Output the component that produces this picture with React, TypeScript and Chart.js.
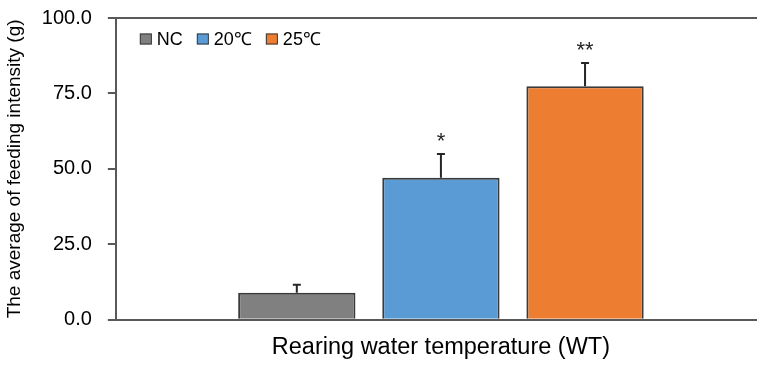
import React, { useEffect, useRef } from "react";
import { Chart, registerables } from "chart.js";

Chart.register(...registerables);

const categories = ["Rearing water temperature (WT)"];
const seriesNames = ["NC", "20℃", "25℃"];
const means = [9.0, 47.1, 77.4];
const errors = [2.6, 7.8, 7.7];
const significance = ["", "*", "**"];
const yTicks = [0, 25, 50, 75, 100];

const colors = ["#808080", "#5b9bd5", "#ed7d31"];
const axisColor = "#595959";
const FONT = "'Liberation Sans', Arial, sans-serif";

const errorBarPlugin = {
  id: "errorBars",
  afterDatasetsDraw(chart: any) {
    const ctx = chart.ctx;
    const y = chart.scales.y;
    ctx.save();
    chart.data.datasets.forEach((ds: any, i: number) => {
      const meta = chart.getDatasetMeta(i);
      const el = meta.data[0];
      if (!el) return;
      const x = el.x;
      const yTop = y.getPixelForValue(means[i]);
      const yErr = y.getPixelForValue(means[i] + errors[i]);
      ctx.strokeStyle = "#262626";
      ctx.lineWidth = 2;
      ctx.beginPath();
      ctx.moveTo(x, yTop);
      ctx.lineTo(x, yErr);
      ctx.moveTo(x - 4, yErr);
      ctx.lineTo(x + 4, yErr);
      ctx.stroke();
      if (significance[i]) {
        ctx.fillStyle = "#262626";
        ctx.font = `22px ${FONT}`;
        ctx.textAlign = "center";
        ctx.textBaseline = "bottom";
        ctx.fillText(significance[i], x, yErr - 1);
      }
    });
    ctx.restore();
  },
};

const topBorderPlugin = {
  id: "topBorder",
  afterDraw(chart: any) {
    const { ctx, chartArea } = chart;
    ctx.save();
    ctx.strokeStyle = axisColor;
    ctx.lineWidth = 2;
    ctx.beginPath();
    ctx.moveTo(chartArea.left, chartArea.top);
    ctx.lineTo(chartArea.right + 10, chartArea.top);
    ctx.stroke();
    ctx.restore();
  },
};

// Legend drawn inside the plot area, in one row, from the chart's datasets
const insideLegendPlugin = {
  id: "insideLegend",
  afterDraw(chart: any) {
    const { ctx, chartArea } = chart;
    ctx.save();
    ctx.font = `18px ${FONT}`;
    ctx.textAlign = "left";
    ctx.textBaseline = "middle";
    let x = chartArea.left + 24;
    const cy = chartArea.top + 21;
    const boxW = 12;
    const boxH = 11;
    chart.data.datasets.forEach((ds: any) => {
      ctx.fillStyle = ds.backgroundColor;
      ctx.fillRect(x, cy - boxH / 2, boxW, boxH);
      ctx.strokeStyle = "#3a3a3a";
      ctx.lineWidth = 1;
      ctx.strokeRect(x + 0.5, cy - boxH / 2 + 0.5, boxW - 1, boxH - 1);
      const tx = x + boxW + 5;
      ctx.fillStyle = "#000";
      ctx.fillText(ds.label, tx, cy + 1);
      x = tx + ctx.measureText(ds.label).width + 14;
    });
    ctx.restore();
  },
};

export default function App() {
  const ref = useRef<HTMLCanvasElement | null>(null);
  useEffect(() => {
    if (!ref.current) return;
    const chart = new Chart(ref.current, {
      type: "bar",
      data: {
        labels: categories,
        datasets: seriesNames.map((name, i) => ({
          label: name,
          data: [means[i]],
          backgroundColor: colors[i],
          borderColor: "#3a3a3a",
          borderWidth: 2,
          categoryPercentage: 0.665,
          barPercentage: 0.814,
        })),
      },
      options: {
        responsive: false,
        animation: false,
        layout: { padding: { top: 18, left: 0, right: 0, bottom: 0 } },
        plugins: {
          tooltip: { enabled: false },
          legend: { display: false },
        },
        scales: {
          x: {
            grid: { display: false, drawTicks: false },
            border: { display: true, color: axisColor, width: 2 },
            ticks: { display: false },
            title: {
              display: true,
              text: categories[0],
              color: "#000",
              font: { family: FONT, size: 23.5 },
              padding: { top: 14, bottom: 3 },
            },
          },
          y: {
            min: 0,
            max: 100,
            afterBuildTicks(scale: any) {
              scale.ticks = yTicks.map((v) => ({ value: v }));
            },
            afterFit(scale: any) {
              scale.paddingTop = 0;
              scale.paddingBottom = 0;
            },
            ticks: {
              padding: 16,
              color: "#000",
              font: { family: FONT, size: 20 },
              callback: (v: any) => Number(v).toFixed(1),
            },
            grid: {
              drawOnChartArea: false,
              drawTicks: true,
              tickLength: 8,
              color: axisColor,
              lineWidth: 2,
            },
            border: { display: true, color: axisColor, width: 2 },
            title: {
              display: true,
              text: "The average of feeding intensity (g)",
              color: "#000",
              font: { family: FONT, size: 19 },
              padding: { top: 3, bottom: 0 },
            },
          },
        },
      },
      plugins: [errorBarPlugin, topBorderPlugin, insideLegendPlugin],
    });
    return () => chart.destroy();
  }, []);
  return (
    <div style={{ position: "absolute", left: 0, top: 0, width: 757, height: 365, overflow: "hidden", background: "#fff" }}>
      <canvas ref={ref} width={766} height={365} />
    </div>
  );
}
